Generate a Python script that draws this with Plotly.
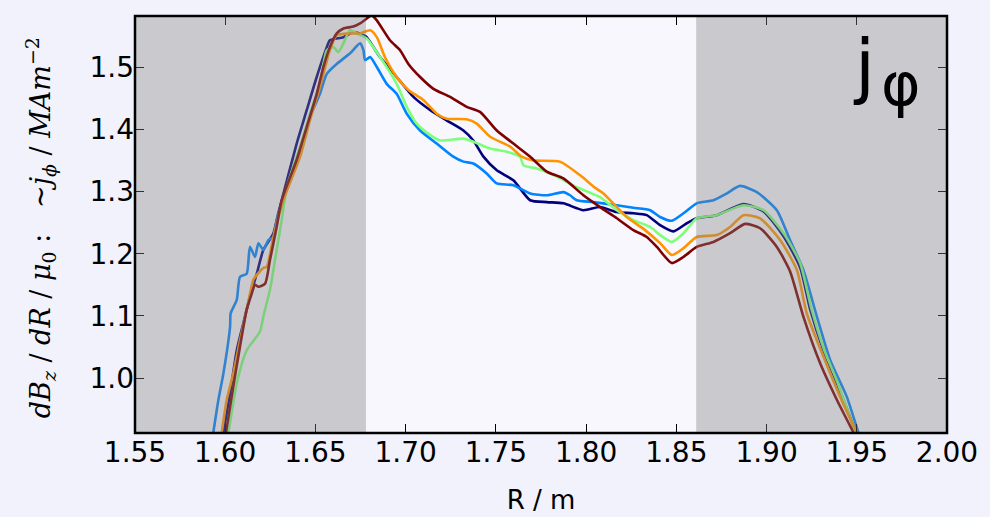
import plotly.graph_objects as go

# ---- data ----
r_navy = [1.5985, 1.6027, 1.6064, 1.6100, 1.6137, 1.6175, 1.6211, 1.6267, 1.6294, 1.6313, 1.6396, 1.6452,
          1.6507, 1.6563, 1.6580, 1.6655, 1.6710, 1.6766, 1.6784, 1.6858, 1.6950, 1.7043, 1.7135, 1.7228,
          1.7320, 1.7375, 1.7431, 1.7505, 1.7597, 1.7690, 1.7782, 1.7874, 1.7985, 1.8077, 1.8170, 1.8262,
          1.8336, 1.8410, 1.8484, 1.8558, 1.8613, 1.8724, 1.8872, 1.8983, 1.9094, 1.9186, 1.9242, 1.9315,
          1.9390, 1.9482, 1.9500]
j_navy = [0.905, 0.976, 1.045, 1.088, 1.131, 1.168, 1.206, 1.233, 1.265, 1.286, 1.377, 1.431,
          1.484, 1.532, 1.543, 1.548, 1.556, 1.551, 1.548, 1.516, 1.484, 1.452, 1.431, 1.414,
          1.398, 1.382, 1.356, 1.334, 1.318, 1.286, 1.283, 1.281, 1.270, 1.275, 1.267, 1.265,
          1.262, 1.246, 1.236, 1.249, 1.257, 1.262, 1.280, 1.268, 1.228, 1.178, 1.110, 1.045,
          0.992, 0.922, 0.905]

r_blue = [1.5930, 1.5962, 1.5990, 1.6027, 1.6030, 1.6064, 1.6082, 1.6119, 1.6137, 1.6165, 1.6184, 1.6211,
          1.6239, 1.6267, 1.6285, 1.6320, 1.6415, 1.6470, 1.6525, 1.6563, 1.6618, 1.6692, 1.6747, 1.6766,
          1.6775, 1.6803, 1.6840, 1.6895, 1.6950, 1.7006, 1.7080, 1.7172, 1.7264, 1.7320, 1.7375, 1.7449,
          1.7505, 1.7597, 1.7690, 1.7782, 1.7874, 1.7911, 1.7948, 1.8040, 1.8170, 1.8262, 1.8355, 1.8410,
          1.8475, 1.8540, 1.8613, 1.8706, 1.8780, 1.8853, 1.8946, 1.9057, 1.9130, 1.9204, 1.9279, 1.9353,
          1.9445, 1.9510, 1.9520]
j_blue = [0.905, 0.965, 1.008, 1.083, 1.104, 1.126, 1.163, 1.168, 1.211, 1.195, 1.217, 1.206,
          1.222, 1.227, 1.254, 1.286, 1.366, 1.420, 1.457, 1.489, 1.505, 1.522, 1.538, 1.527,
          1.511, 1.516, 1.500, 1.473, 1.457, 1.425, 1.398, 1.377, 1.356, 1.348, 1.345, 1.329,
          1.313, 1.310, 1.297, 1.294, 1.299, 1.294, 1.286, 1.283, 1.278, 1.274, 1.270, 1.259,
          1.253, 1.265, 1.281, 1.286, 1.297, 1.309, 1.299, 1.270, 1.222, 1.174, 1.099, 1.029,
          0.970, 0.912, 0.905]

r_green = [1.6010, 1.6017, 1.6064, 1.6119, 1.6193, 1.6211, 1.6248, 1.6276, 1.6313, 1.6341, 1.6415, 1.6470,
           1.6525, 1.6563, 1.6600, 1.6627, 1.6655, 1.6692, 1.6729, 1.6784, 1.6858, 1.6950, 1.7006, 1.7061,
           1.7135, 1.7190, 1.7320, 1.7375, 1.7468, 1.7560, 1.7634, 1.7653, 1.7727, 1.7838, 1.7948, 1.8077,
           1.8170, 1.8262, 1.8355, 1.8410, 1.8475, 1.8540, 1.8613, 1.8724, 1.8872, 1.8983, 1.9094, 1.9186,
           1.9250, 1.9320, 1.9395, 1.9490, 1.9505]
j_green = [0.905, 0.912, 0.992, 1.045, 1.075, 1.099, 1.142, 1.190, 1.254, 1.307, 1.372, 1.425,
           1.473, 1.527, 1.532, 1.524, 1.538, 1.559, 1.554, 1.546, 1.516, 1.473, 1.436, 1.409,
           1.391, 1.382, 1.385, 1.380, 1.369, 1.364, 1.356, 1.342, 1.337, 1.324, 1.307, 1.291,
           1.270, 1.254, 1.243, 1.230, 1.219, 1.233, 1.257, 1.262, 1.278, 1.270, 1.233, 1.185,
           1.110, 1.045, 0.992, 0.915, 0.905]

r_orange = [1.5975, 1.5980, 1.6008, 1.6045, 1.6082, 1.6119, 1.6156, 1.6175, 1.6211, 1.6230, 1.6267, 1.6322,
            1.6415, 1.6470, 1.6525, 1.6580, 1.6618, 1.6692, 1.6747, 1.6803, 1.6840, 1.6885, 1.6950, 1.7015,
            1.7098, 1.7172, 1.7228, 1.7338, 1.7394, 1.7468, 1.7579, 1.7643, 1.7708, 1.7855, 1.7967, 1.8050,
            1.8096, 1.8225, 1.8318, 1.8410, 1.8475, 1.8540, 1.8613, 1.8724, 1.8798, 1.8872, 1.8964, 1.9075,
            1.9168, 1.9223, 1.9315, 1.9408, 1.9500, 1.9510]
j_orange = [0.905, 0.912, 0.965, 1.008, 1.061, 1.110, 1.158, 1.166, 1.177, 1.179, 1.227, 1.286,
            1.356, 1.415, 1.468, 1.527, 1.551, 1.554, 1.554, 1.559, 1.548, 1.516, 1.484, 1.463,
            1.447, 1.425, 1.417, 1.416, 1.409, 1.388, 1.372, 1.356, 1.350, 1.348, 1.326, 1.306,
            1.297, 1.259, 1.240, 1.217, 1.198, 1.209, 1.227, 1.230, 1.243, 1.262, 1.257, 1.222,
            1.174, 1.104, 1.035, 0.970, 0.912, 0.905]

r_red = [1.6000, 1.6004, 1.6045, 1.6082, 1.6119, 1.6147, 1.6165, 1.6184, 1.6221, 1.6248, 1.6285, 1.6313,
         1.6396, 1.6452, 1.6507, 1.6544, 1.6580, 1.6618, 1.6655, 1.6710, 1.6747, 1.6784, 1.6812, 1.6840,
         1.6913, 1.6969, 1.7015, 1.7080, 1.7154, 1.7246, 1.7338, 1.7412, 1.7505, 1.7597, 1.7690, 1.7782,
         1.7874, 1.7985, 1.8077, 1.8170, 1.8262, 1.8336, 1.8392, 1.8475, 1.8540, 1.8613, 1.8706, 1.8798,
         1.8881, 1.8964, 1.9057, 1.9130, 1.9204, 1.9297, 1.9390, 1.9482, 1.9490]
j_red = [0.905, 0.912, 0.987, 1.051, 1.110, 1.136, 1.150, 1.147, 1.152, 1.190, 1.243, 1.286,
         1.351, 1.404, 1.457, 1.500, 1.532, 1.554, 1.562, 1.565, 1.570, 1.578, 1.583, 1.575,
         1.543, 1.527, 1.505, 1.484, 1.465, 1.452, 1.436, 1.428, 1.398, 1.377, 1.356, 1.332,
         1.321, 1.294, 1.275, 1.257, 1.238, 1.227, 1.211, 1.185, 1.195, 1.211, 1.219, 1.233,
         1.248, 1.241, 1.211, 1.172, 1.099, 1.024, 0.965, 0.912, 0.905]

series = [
    (r_navy, j_navy, "#00007f"),
    (r_blue, j_blue, "#0084ff"),
    (r_green, j_green, "#7dff7a"),
    (r_orange, j_orange, "#ff9400"),
    (r_red, j_red, "#7f0000"),
]

shade_left = [1.55, 1.678]
shade_right = [1.861, 2.00]
x_ticks = [1.55, 1.60, 1.65, 1.70, 1.75, 1.80, 1.85, 1.90, 1.95, 2.00]
y_ticks = [1.0, 1.1, 1.2, 1.3, 1.4, 1.5]
x_range = [1.55, 2.00]
y_range = [0.912, 1.582]

fig = go.Figure()
for r, j, c in series:
    fig.add_trace(go.Scatter(x=r, y=j, mode="lines",
                             line=dict(color=c, width=2.6, shape="spline", smoothing=0.6),
                             showlegend=False, hoverinfo="skip"))

for x0, x1 in (shade_left, shade_right):
    fig.add_shape(type="rect", xref="x", yref="paper", x0=x0, x1=x1, y0=0, y1=1,
                  fillcolor="rgba(128,128,128,0.38)", line=dict(width=0), layer="above")

# frame
fig.add_shape(type="rect", xref="paper", yref="paper", x0=0, x1=1, y0=0, y1=1,
              line=dict(color="black", width=2.5), fillcolor="rgba(0,0,0,0)", layer="above")

axis_common = dict(showgrid=False, zeroline=False, ticks="inside", ticklen=9, tickwidth=1.2,
                   tickcolor="black", mirror="ticks", showline=False, automargin=False,
                   tickfont=dict(family="DejaVu Sans", size=28, color="black"))

fig.update_xaxes(range=x_range, tickvals=x_ticks, ticktext=[f"{v:.2f}" for v in x_ticks],
                 title=dict(text="R / m", font=dict(family="DejaVu Sans", size=26, color="black"),
                            standoff=22), **axis_common)
fig.update_yaxes(range=y_range, tickvals=y_ticks, ticktext=[f"{v:.1f}" for v in y_ticks],
                 **axis_common)

ylabel = ("<i>dB</i><sub><i>z</i></sub> / <i>dR</i> / <i>μ</i><sub>0</sub> :   "
          "~<i>j</i><sub><i>ϕ</i></sub> / <i>MAm</i><sup>−2</sup>")
fig.add_annotation(xref="paper", yref="paper", x=(40 - 135) / 812, y=(433 - 228) / 417.5,
                   text=ylabel, textangle=-90, showarrow=False, xanchor="center", yanchor="middle",
                   font=dict(family="DejaVu Serif", size=27, color="black"))

fig.add_annotation(xref="paper", yref="paper", x=(864 - 135) / 812, y=(433 - 65) / 417.5,
                   text="j", showarrow=False, xanchor="center", yanchor="middle",
                   font=dict(family="DejaVu Sans", size=72, color="black"))
fig.add_annotation(xref="paper", yref="paper", x=(901 - 135) / 812, y=(433 - 84) / 417.5,
                   text="φ", showarrow=False, xanchor="center", yanchor="middle",
                   font=dict(family="DejaVu Sans", size=60, color="black"))

fig.update_layout(width=990, height=517, margin=dict(l=135, r=43, t=15.5, b=84),
                  paper_bgcolor="#f1f2fb", plot_bgcolor="#f7f7fd")

fig.write_html("out.html", config={"displayModeBar": False},
               post_script="document.body.style.margin='0';document.body.style.background='#f1f2fb';")
